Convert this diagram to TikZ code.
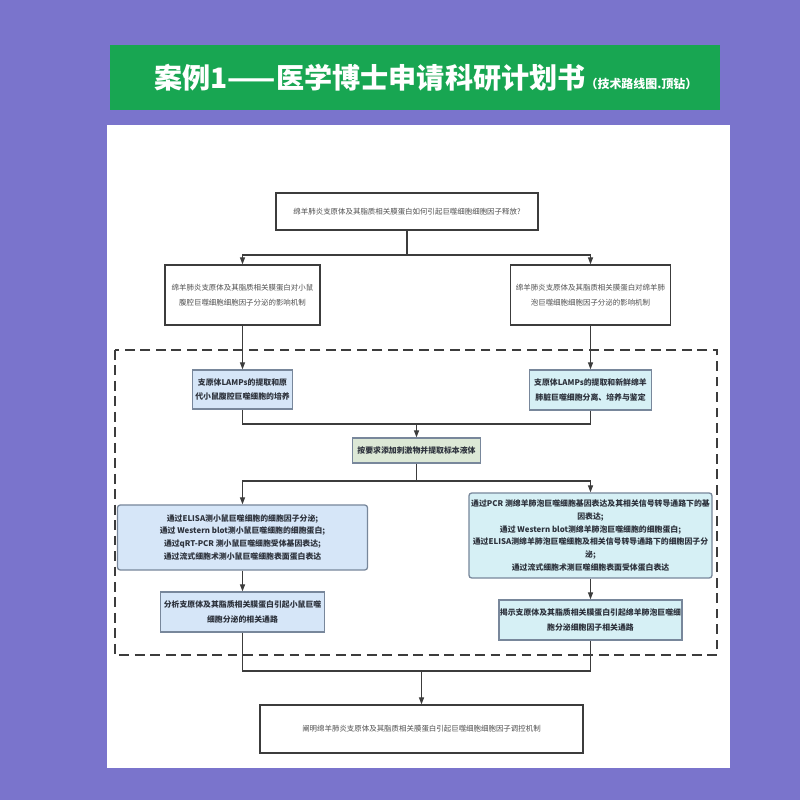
\documentclass[tikz,border=0pt]{standalone}
\usepackage{fontspec}
\setmainfont{Noto Sans CJK SC}
\usepackage{xcolor}
\usetikzlibrary{arrows.meta}

\definecolor{bgpurple}{RGB}{122,116,204}
\definecolor{bannergreen}{RGB}{24,166,82}
\definecolor{linegray}{RGB}{60,60,60}
\definecolor{textgray}{RGB}{80,80,80}
\definecolor{darktext}{RGB}{45,50,60}
\definecolor{fillblue}{RGB}{214,230,248}
\definecolor{edgeblue}{RGB}{120,135,155}
\definecolor{fillcyan}{RGB}{214,240,245}
\definecolor{fillgreen}{RGB}{220,232,214}

\tikzset{
  box/.style={draw=linegray, line width=0.9pt, align=center, inner sep=0pt,
    text=textgray, font=\fontsize{5.3}{10.5}\selectfont},
  boxwhite/.style={box, fill=white},
  boxblue/.style={box, fill=fillblue, draw=edgeblue, text=darktext,
    font=\fontsize{5.6}{10.5}\selectfont\bfseries},
  boxcyan/.style={boxblue, fill=fillcyan},
  boxgreen/.style={boxblue, fill=fillgreen},
  link/.style={line width=0.8pt, draw=linegray},
  arr/.style={link, -{Triangle[length=5pt,width=3.6pt]}},
}

\begin{document}
\begin{tikzpicture}[x=0.025cm,y=-0.025cm]
\useasboundingbox (0,0) rectangle (800,800);
\fill[bgpurple] (0,0) rectangle (800,800);

% banner and panel
\fill[bannergreen] (110,45) rectangle (720,110);
\node[text=white, font=\bfseries] (title) at (426,78)
  {{\fontsize{20}{20}\selectfont 案例1——医学博士申请科研计划书}{\fontsize{8.5}{8.5}\selectfont （技术路线图.顶钻）}};
\fill[white] (107,125) rectangle (730,768);
\draw[line width=1.1pt, draw=linegray, dash pattern=on 7pt off 4pt] (115,350) rectangle (717,655);

% boxes
\node[boxwhite, minimum width=6.55cm, minimum height=0.925cm] (top) at (407,211.5)
  {绵羊肺炎支原体及其脂质相关膜蛋白如何引起巨噬细胞细胞因子释放?};
\node[boxwhite, minimum width=3.875cm, minimum height=1.5cm] (mouse) at (242.5,295)
  {绵羊肺炎支原体及其脂质相关膜蛋白对小鼠\\腹腔巨噬细胞细胞因子分泌的影响机制};
\node[boxwhite, minimum width=4cm, minimum height=1.5cm] (sheep) at (590.5,295)
  {绵羊肺炎支原体及其脂质相关膜蛋白对绵羊肺\\泡巨噬细胞细胞因子分泌的影响机制};
\node[boxblue, minimum width=2.5cm, minimum height=0.975cm] (mcult) at (242.5,389.5)
  {支原体LAMPs的提取和原\\代小鼠腹腔巨噬细胞的培养};
\node[boxcyan, minimum width=3.05cm, minimum height=1cm] (scult) at (590.5,390)
  {支原体LAMPs的提取和新鲜绵羊\\肺脏巨噬细胞分离、培养与鉴定};
\node[boxgreen, minimum width=3.2cm, minimum height=0.625cm] (stim) at (416.5,450.5)
  {按要求添加刺激物并提取标本液体};
\node[boxblue, rounded corners=2pt, minimum width=6.25cm, minimum height=1.625cm,
  font=\fontsize{5.6}{9.2}\selectfont\bfseries] (mtest) at (242.5,537.5)
  {通过ELISA测小鼠巨噬细胞的细胞因子分泌;\\通过 Western blot测小鼠巨噬细胞的细胞蛋白;\\通过qRT-PCR 测小鼠巨噬细胞受体基因表达;\\通过流式细胞术测小鼠巨噬细胞表面蛋白表达};
\node[boxcyan, rounded corners=2pt, minimum width=6.075cm, minimum height=2.125cm,
  font=\fontsize{5.6}{9}\selectfont\bfseries] (stest) at (590.5,535.5)
  {通过PCR 测绵羊肺泡巨噬细胞基因表达及其相关信号转导通路下的基\\因表达;\\通过 Western blot测绵羊肺泡巨噬细胞的细胞蛋白;\\通过ELISA测绵羊肺泡巨噬细胞及相关信号转导通路下的细胞因子分\\泌;\\通过流式细胞术测巨噬细胞表面受体蛋白表达};
\node[boxblue, minimum width=4.1cm, minimum height=1cm] (mpath) at (242.5,612)
  {分析支原体及其脂质相关膜蛋白引起小鼠巨噬\\细胞分泌的相关通路};
\node[boxcyan, minimum width=4.575cm, minimum height=1cm] (spath) at (590.5,620)
  {揭示支原体及其脂质相关膜蛋白引起绵羊肺泡巨噬细\\胞分泌细胞因子相关通路};
\node[boxwhite, minimum width=8.075cm, minimum height=1.2cm] (goal) at (421.5,729)
  {阐明绵羊肺炎支原体及其脂质相关膜蛋白引起巨噬细胞细胞因子调控机制};

% connectors
\coordinate (split1) at (407,255);
\coordinate (join1) at (416.5,424);
\coordinate (split2) at (416.5,481);
\coordinate (join2) at (421.5,671);

\draw[link] (top) -- (split1);
\draw[arr] (split1) -| (mouse);
\draw[arr] (split1) -| (sheep);
\draw[arr] (mouse) -- (mcult);
\draw[arr] (sheep) -- (scult);
\draw[link] (mcult) |- (join1);
\draw[link] (scult) |- (join1);
\draw[arr] (join1) -- (stim);
\draw[link] (stim) -- (split2);
\draw[arr] (split2) -| (mtest);
\draw[arr] (split2) -| (stest);
\draw[arr] (mtest) -- (mpath);
\draw[arr] (stest) -- (spath);
\draw[link] (mpath) |- (join2);
\draw[link] (spath) |- (join2);
\draw[arr] (join2) -- (goal);
\end{tikzpicture}
\end{document}
